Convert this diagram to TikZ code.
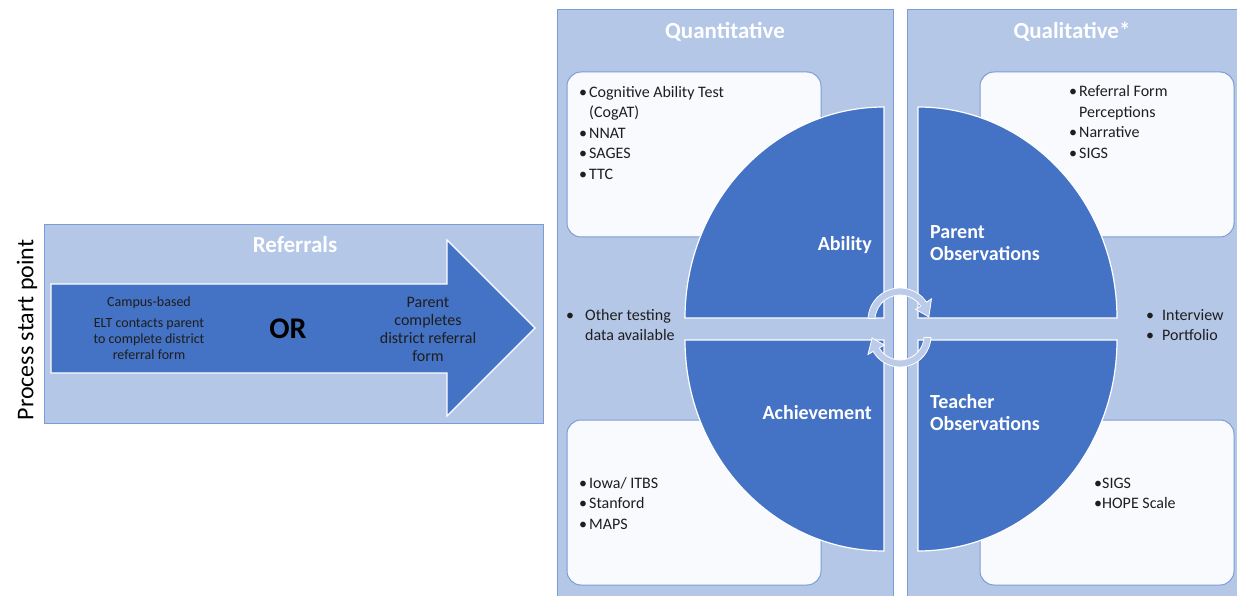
\documentclass[tikz,border=0pt]{standalone}
\usepackage{fontspec}
\setmainfont{Carlito}
\definecolor{darkblue}{HTML}{4472C4}
\definecolor{panelblue}{HTML}{B4C7E7}
\definecolor{edgeblue}{HTML}{7C9CD8}
\definecolor{boxwhite}{HTML}{F8FAFD}
\definecolor{cyclight}{HTML}{BDCBEA}
\definecolor{textdark}{HTML}{1E1E1E}
\newcommand{\bul}[1][10pt]{\makebox[#1][l]{\textbullet}}

\begin{document}
\begin{tikzpicture}[
		x=1pt, y=-1pt,
		every node/.style={inner sep=0pt, text=textdark},
		panel/.style={fill=panelblue, draw=edgeblue, line width=0.8pt},
		listbox/.style={fill=boxwhite, draw=edgeblue, line width=1pt, rounded corners=14pt},
		quadrant/.style={fill=darkblue, draw=white, line width=1.2pt},
		bigarrow/.style={fill=darkblue, draw=white, line width=1.2pt},
		cycarrow/.style={fill=cyclight, draw=white, line width=0.8pt},
		paneltitle/.style={anchor=base, text=white, font=\bfseries\fontsize{23}{26}\selectfont},
		quadtext/.style={text=white, font=\bfseries\fontsize{20}{22}\selectfont},
		listtext/.style={anchor=base west, font=\fontsize{16}{20.5}\selectfont}
		]
	\useasboundingbox (0,0) rectangle (1237,596);
	\clip (0,0) rectangle (1237,596);
	
	% Start label
	\node[rotate=90, text=black, font=\fontsize{24}{26}\selectfont] (start) at (27,330) {Process start point};
	
	% Referrals
	\draw[panel] (44,224) rectangle (543,423);
	\draw[bigarrow] (51,284) -- (447,284) -- (447,240) -- (535,328) -- (447,416) -- (447,373) -- (51,373) -- cycle;
	\node[paneltitle] (referrals) at (295,252.5) {Referrals};
	\node[anchor=base, font=\fontsize{14}{16}\selectfont] (campus) at (149,306)
		{\begin{tabular}[t]{@{}c@{}}Campus-based\\[5pt] ELT contacts parent\\ to complete district\\ referral form\end{tabular}};
	\node[anchor=base, text=black, font=\bfseries\fontsize{30}{32}\selectfont] (or) at (288,338) {OR};
	\node[anchor=base, font=\fontsize{16}{18.3}\selectfont] (parentform) at (428,307)
		{\begin{tabular}[t]{@{}c@{}}Parent\\ completes\\ district referral\\ form\end{tabular}};
	
	% Panels
	\draw[panel] (557,9) rectangle (893,600);
	\draw[panel] (907,9) rectangle (1245,600);
	\node[paneltitle] (quant) at (725,38.5) {Quantitative};
	\node[paneltitle] (qual) at (1072,38.5) {Qualitative*};
	
	% List boxes
	\foreach \x/\y in {567/72, 980/72, 567/420, 980/420}{
		\draw[listbox] (\x,\y) rectangle ++(254,165);
	}
	
	% Quadrants
	\foreach \cx/\cy/\sa in {884/318/180, 918/318/270, 884/340/90, 918/340/0}{
		\draw[quadrant] (\cx,\cy) -- ([shift={(\cx,\cy)}]\sa:199 and 211)
			arc[start angle=\sa, delta angle=90, x radius=199, y radius=211] -- cycle;
	}
	
	% Cycle arrows
	\begin{scope}[shift={(900,320)}]
		\draw[cycarrow] (183:32) arc[start angle=183, end angle=326, radius=32]
			-- (326:38) -- (354:29) -- (326:19) -- (326:25)
			arc[start angle=326, end angle=183, radius=25] -- cycle;
	\end{scope}
	\begin{scope}[shift={(900,336)}]
		\draw[cycarrow] (3:31) arc[start angle=3, end angle=150, radius=31]
			-- (150:37) -- (176:28) -- (150:18) -- (150:24)
			arc[start angle=150, end angle=3, radius=24] -- cycle;
	\end{scope}
	
	% Quadrant labels
	\node[quadtext, anchor=base east] (ability) at (872,251) {Ability};
	\node[quadtext, anchor=base west] (parentobs) at (930,238.5)
		{\begin{tabular}[t]{@{}l@{}}Parent\\ Observations\end{tabular}};
	\node[quadtext, anchor=base east] (achieve) at (872,419.5) {Achievement};
	\node[quadtext, anchor=base west] (teacherobs) at (930,408.5)
		{\begin{tabular}[t]{@{}l@{}}Teacher\\ Observations\end{tabular}};
	
	% Lists
	\node[listtext] (abilitylist) at (579,97.5)
		{\begin{tabular}[t]{@{}l@{}l@{}}\bul & Cognitive Ability Test\\ & (CogAT)\\ \bul & NNAT\\ \bul & SAGES\\ \bul & TTC\end{tabular}};
	\node[listtext] (parentlist) at (1069,97)
		{\begin{tabular}[t]{@{}l@{}l@{}}\bul & Referral Form\\ & Perceptions\\ \bul & Narrative\\ \bul & SIGS\end{tabular}};
	\node[listtext] (otherlist) at (566,320)
		{\begin{tabular}[t]{@{}l@{}l@{}}\bul[19pt] & Other testing\\ & data available\end{tabular}};
	\node[listtext] (interviewlist) at (1146,320)
		{\begin{tabular}[t]{@{}l@{}l@{}}\bul[16pt] & Interview\\ \bul[16pt] & Portfolio\end{tabular}};
	\node[listtext] (achievelist) at (579,488)
		{\begin{tabular}[t]{@{}l@{}l@{}}\bul & Iowa/ ITBS\\ \bul & Stanford\\ \bul & MAPS\end{tabular}};
	\node[listtext] (teacherlist) at (1094,488)
		{\begin{tabular}[t]{@{}l@{}}\textbullet SIGS\\ \textbullet HOPE Scale\end{tabular}};
	
\end{tikzpicture}
\end{document}
